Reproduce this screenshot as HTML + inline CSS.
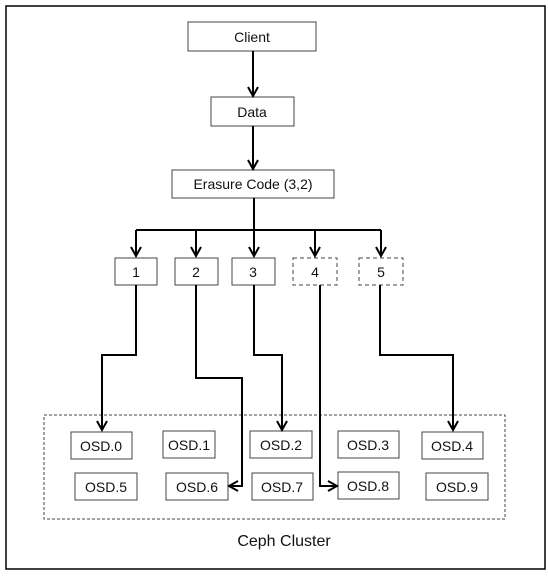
<!DOCTYPE html>
<html><head><style>
html,body{margin:0;padding:0;background:#fff;}
svg text{font-family:"Liberation Sans",sans-serif;font-size:14px;fill:#111;}
</style></head><body>
<svg width="548" height="574" viewBox="0 0 548 574" xmlns="http://www.w3.org/2000/svg">
<defs>
<marker id="a" markerWidth="12" markerHeight="12" refX="10" refY="6" orient="auto" markerUnits="userSpaceOnUse">
<path d="M1,1 L10,6 L1,11" fill="none" stroke="#000" stroke-width="2"/>
</marker>
</defs>
<rect x="6" y="6" width="539" height="563" fill="none" stroke="#000" stroke-width="1.5"/>
<g fill="#fff" stroke="#444" stroke-width="1">
<rect x="188" y="22" width="128" height="29"/>
<rect x="211" y="97" width="83" height="29"/>
<rect x="172" y="170" width="162" height="28"/>
<rect x="115" y="258" width="42" height="27"/>
<rect x="175" y="258" width="43" height="27"/>
<rect x="232" y="258" width="43" height="27"/>
<rect x="293" y="258" width="44" height="27" stroke-dasharray="4,3"/>
<rect x="359" y="258" width="44" height="27" stroke-dasharray="4,3"/>
<rect x="44" y="415" width="461" height="104" stroke-dasharray="3,2"/>
<rect x="71" y="432" width="61" height="27"/>
<rect x="163" y="431" width="52" height="27"/>
<rect x="250" y="431" width="62" height="27"/>
<rect x="338" y="431" width="61" height="27"/>
<rect x="422" y="432" width="61" height="27"/>
<rect x="75" y="473" width="62" height="27"/>
<rect x="166" y="473" width="62" height="27"/>
<rect x="252" y="473" width="61" height="27"/>
<rect x="338" y="472" width="61" height="27"/>
<rect x="426" y="473" width="62" height="27"/>
</g>
<g fill="none" stroke="#000" stroke-width="2">
<line x1="253" y1="51" x2="253" y2="96" marker-end="url(#a)"/>
<line x1="253" y1="126" x2="253" y2="169" marker-end="url(#a)"/>
<line x1="254" y1="198" x2="254" y2="230"/>
<line x1="136" y1="230" x2="381" y2="230"/>
<line x1="136" y1="230" x2="136" y2="256" marker-end="url(#a)"/>
<line x1="196" y1="230" x2="196" y2="256" marker-end="url(#a)"/>
<line x1="254" y1="230" x2="254" y2="256" marker-end="url(#a)"/>
<line x1="315" y1="230" x2="315" y2="256" marker-end="url(#a)"/>
<line x1="381" y1="230" x2="381" y2="256" marker-end="url(#a)"/>
<polyline points="136,285 136,355 102,355 102,430" marker-end="url(#a)"/>
<polyline points="196,285 196,378 242,378 242,486 229,486" marker-end="url(#a)"/>
<polyline points="254,285 254,355 282,355 282,430" marker-end="url(#a)"/>
<polyline points="320,285 320,486 337,486" marker-end="url(#a)"/>
<polyline points="380,285 380,355 453,355 453,430" marker-end="url(#a)"/>
</g>
<g text-anchor="middle">
<text x="252" y="42">Client</text>
<text x="252" y="117">Data</text>
<text x="253" y="189">Erasure Code (3,2)</text>
<text x="136" y="277">1</text>
<text x="196" y="277">2</text>
<text x="253" y="277">3</text>
<text x="315" y="277">4</text>
<text x="381" y="277">5</text>
<text x="101" y="451">OSD.0</text>
<text x="189" y="450">OSD.1</text>
<text x="281" y="450">OSD.2</text>
<text x="368" y="450">OSD.3</text>
<text x="452" y="451">OSD.4</text>
<text x="106" y="492">OSD.5</text>
<text x="197" y="492">OSD.6</text>
<text x="282" y="492">OSD.7</text>
<text x="368" y="491">OSD.8</text>
<text x="457" y="492">OSD.9</text>
<text x="284" y="546" style="font-size:16px">Ceph Cluster</text>
</g>
</svg>
</body></html>
